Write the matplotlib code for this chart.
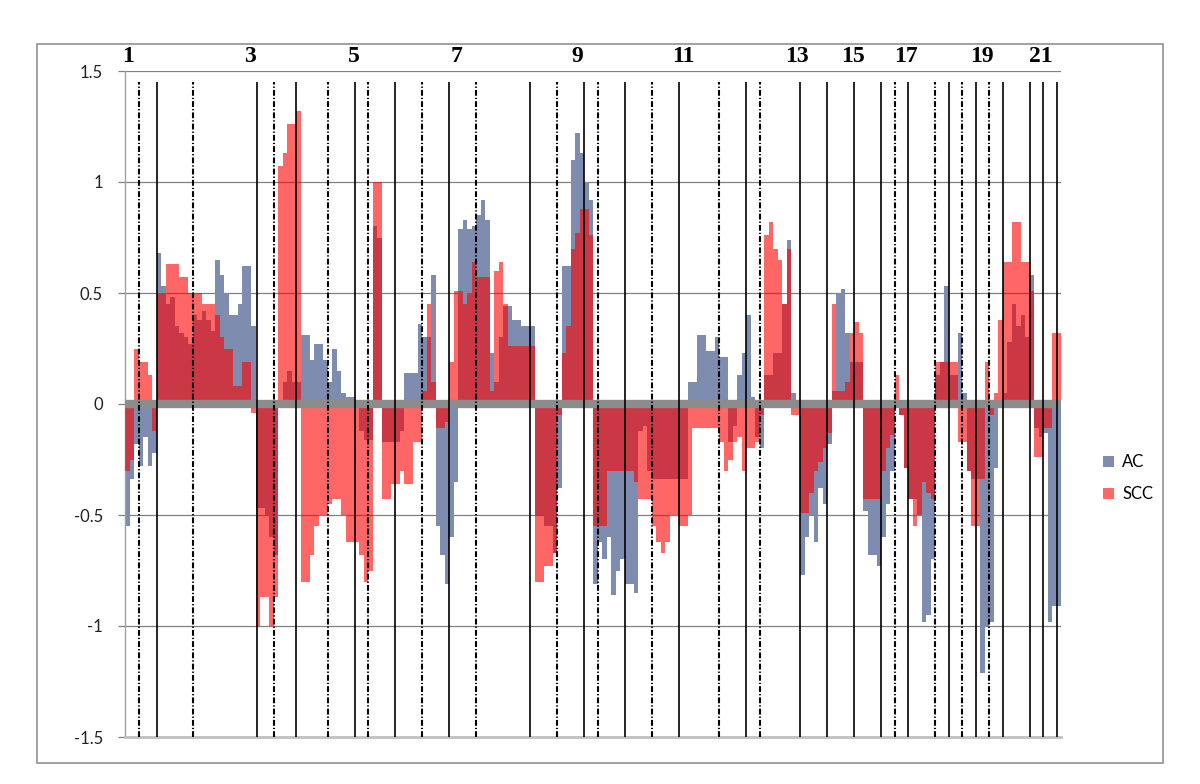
import matplotlib
matplotlib.use('Agg')
import matplotlib.pyplot as plt
from matplotlib.patches import Rectangle, Patch
import numpy as np

# per-position values (one bar per window position)
ac = [-0.55, -0.34, -0.18, -0.28, -0.15, -0.28, -0.22, 0.68, 0.53, 0.45,
      0.48, 0.35, 0.32, 0.30, 0.27, 0.40, 0.38, 0.42, 0.38, 0.33,
      0.65, 0.58, 0.50, 0.40, 0.40, 0.45, 0.62, 0.62, 0.35, -0.47,
      -0.47, -0.50, -0.60, -0.68, 0.02, 0.10, 0.15, 0.10, 0.10, 0.31,
      0.31, 0.20, 0.27, 0.27, 0.20, 0.10, 0.25, 0.15, 0.05, 0.03,
      0.03, -0.02, -0.12, -0.16, -0.16, 0.80, 0.75, -0.17, -0.17, -0.17,
      -0.17, -0.12, 0.14, 0.14, 0.14, 0.36, 0.30, 0.30, 0.58, -0.55,
      -0.68, -0.81, -0.60, -0.35, 0.79, 0.83, 0.79, 0.80, 0.85, 0.92,
      0.83, 0.23, 0.10, 0.30, 0.44, 0.44, 0.38, 0.38, 0.35, 0.35,
      0.35, -0.50, -0.50, -0.55, -0.55, -0.67, -0.38, 0.62, 0.62, 1.10,
      1.22, 1.13, 1.00, 0.92, -0.81, -0.62, -0.70, -0.60, -0.86, -0.75,
      -0.70, -0.81, -0.81, -0.85, -0.12, -0.10, -0.30, -0.34, -0.34, -0.34,
      -0.34, -0.34, -0.34, -0.34, -0.34, 0.10, 0.10, 0.31, 0.31, 0.24,
      0.24, 0.30, 0.21, 0.21, -0.17, -0.10, 0.13, 0.23, 0.40, 0.03,
      -0.15, -0.20, 0.13, 0.13, 0.23, 0.23, 0.45, 0.74, 0.05, 0.02,
      -0.77, -0.60, -0.50, -0.62, -0.38, -0.45, -0.18, 0.06, 0.50, 0.52,
      0.32, 0.19, 0.19, 0.19, -0.48, -0.68, -0.68, -0.73, -0.60, -0.45,
      -0.30, 0.02, -0.05, -0.29, -0.43, -0.43, -0.50, -0.98, -0.95, -0.70,
      0.13, 0.19, 0.53, 0.13, 0.13, 0.32, 0.05, -0.30, -0.34, -0.34,
      -1.21, -1.00, -0.98, -0.29, -0.02, 0.05, 0.28, 0.45, 0.35, 0.40,
      0.30, 0.58, -0.11, -0.15, -0.13, -0.98, -0.91, -0.91]

scc = [-0.30, -0.25, 0.25, 0.19, 0.19, 0.13, -0.12, 0.50, 0.50, 0.63,
       0.63, 0.63, 0.57, 0.57, 0.50, 0.50, 0.50, 0.45, 0.45, 0.45,
       0.40, 0.30, 0.25, 0.25, 0.08, 0.08, 0.19, 0.19, -0.04, -1.00,
       -0.87, -0.87, -1.00, -0.87, 1.07, 1.13, 1.26, 1.26, 1.32, -0.80,
       -0.80, -0.68, -0.55, -0.50, -0.50, -0.45, -0.43, -0.43, -0.50, -0.62,
       -0.62, -0.62, -0.68, -0.80, -0.75, 1.00, 1.00, -0.43, -0.43, -0.36,
       -0.36, -0.30, -0.36, -0.36, -0.17, -0.17, 0.06, 0.45, 0.10, -0.11,
       -0.11, -0.08, 0.19, 0.51, 0.51, 0.45, 0.50, 0.64, 0.57, 0.57,
       0.57, 0.06, 0.60, 0.64, 0.45, 0.26, 0.26, 0.26, 0.26, 0.26,
       0.26, -0.80, -0.80, -0.73, -0.73, -0.67, -0.05, 0.23, 0.35, 0.70,
       0.77, 0.88, 0.88, 0.76, -0.55, -0.55, -0.55, -0.30, -0.30, -0.30,
       -0.30, -0.30, -0.30, -0.35, -0.43, -0.43, -0.43, -0.55, -0.62, -0.67,
       -0.62, -0.50, -0.50, -0.55, -0.55, -0.50, -0.11, -0.11, -0.11, -0.11,
       -0.11, -0.11, -0.17, -0.30, -0.25, -0.17, -0.15, -0.30, -0.20, -0.20,
       -0.17, -0.05, 0.76, 0.82, 0.70, 0.65, 0.45, 0.70, -0.05, -0.05,
       -0.49, -0.49, -0.40, -0.30, -0.26, -0.20, -0.13, 0.45, 0.06, 0.06,
       0.10, 0.32, 0.37, 0.32, -0.43, -0.43, -0.43, -0.43, -0.30, -0.20,
       -0.14, 0.13, -0.05, -0.29, -0.43, -0.55, -0.50, -0.35, -0.40, -0.43,
       0.19, 0.19, 0.19, 0.19, 0.19, -0.17, -0.17, -0.30, -0.55, -0.55,
       -0.34, 0.19, -0.05, 0.05, 0.38, 0.64, 0.64, 0.82, 0.82, 0.64,
       0.64, 0.51, -0.24, -0.24, -0.11, -0.11, 0.32, 0.32]

# segment boundaries (position units)
solid_bounds = [7, 29.3, 38, 51, 60, 72, 90, 102, 111, 123, 138, 150,
                156, 162, 168, 174, 183, 189, 195, 201, 204, 207]
dashed_bounds = [3, 15, 33, 45, 54, 66, 78, 96, 105, 117, 132, 141,
                 171, 180, 186, 192]

# odd segment numbers along the top
seg_labels = ['1', '3', '5', '7', '9', '11', '13', '15', '17', '19', '21']
seg_label_pos = [0.7, 27.8, 50.9, 73.6, 100.4, 124, 149.3, 161.8, 173.6, 190.4, 203.6]

yticks = [-1.5, -1, -0.5, 0, 0.5, 1, 1.5]
ytick_labels = ['-1.5', '-1', '-0.5', '0', '0.5', '1', '1.5']

ac_color = '#7D8CAF'
scc_color = '#FF0000'

fig = plt.figure(figsize=(12, 7.84), dpi=100)
ax = fig.add_axes([125 / 1200, 1 - 737 / 784, 936 / 1200, 666 / 784])

x = np.arange(len(ac))
ax.bar(x, ac, width=1, align='edge', color=ac_color, linewidth=0, zorder=2)
ax.bar(x, scc, width=1, align='edge', color=scc_color, alpha=0.6, linewidth=0, zorder=3)

ax.set_xlim(0, 208)
ax.set_ylim(-1.5, 1.5)

# grid
for v in [-1, -0.5, 0.5, 1, 1.5]:
    ax.axhline(v, color='#808080', lw=0.9, zorder=1)
ax.axhline(0, color='#8C8C8C', lw=6, zorder=4)

# segment boundaries
for b in solid_bounds:
    ax.plot([b, b], [-1.5, 1.45], color='black', lw=1.2, zorder=5, solid_capstyle='butt')
for b in dashed_bounds:
    ax.plot([b, b], [-1.5, 1.45], color='black', lw=1.5, zorder=5,
            linestyle=(0, (2.8, 1.0, 0.6, 1.0)))

trans = ax.get_xaxis_transform()
for lab, p in zip(seg_labels, seg_label_pos):
    ax.text(p, 1.022, lab, transform=trans, ha='center', va='center',
            fontsize=17, fontweight='bold', family='Liberation Serif')

ax.set_xticks([])
ax.set_yticks(yticks)
ax.set_yticklabels(ytick_labels, fontsize=12, family='Lato', color='#222222')
ax.tick_params(axis='y', length=5, color='#808080', width=0.9, pad=11)

for s in ['top', 'right']:
    ax.spines[s].set_visible(False)
ax.spines['left'].set_color('#A0A0A0')
ax.spines['left'].set_linewidth(1.0)
ax.spines['bottom'].set_color('#C0C0C0')
ax.spines['bottom'].set_linewidth(2)

handles = [Patch(facecolor=ac_color, edgecolor='none'),
           Patch(facecolor=scc_color, alpha=0.6, edgecolor='none')]
fig.legend(handles, ['AC', 'SCC'], loc='center left',
           bbox_to_anchor=(1088 / 1200, 1 - 478 / 784), frameon=False,
           prop={'family': 'Lato', 'size': 12}, handlelength=0.65,
           handleheight=0.65, handletextpad=0.5, labelspacing=0.95)

# outer chart border
fig.patches.append(Rectangle((37 / 1200, 1 - 763 / 784), 1126 / 1200, 719 / 784,
                             transform=fig.transFigure, fill=False,
                             edgecolor='#9A9A9A', lw=1.3))

fig.savefig('out.png', dpi=100)
